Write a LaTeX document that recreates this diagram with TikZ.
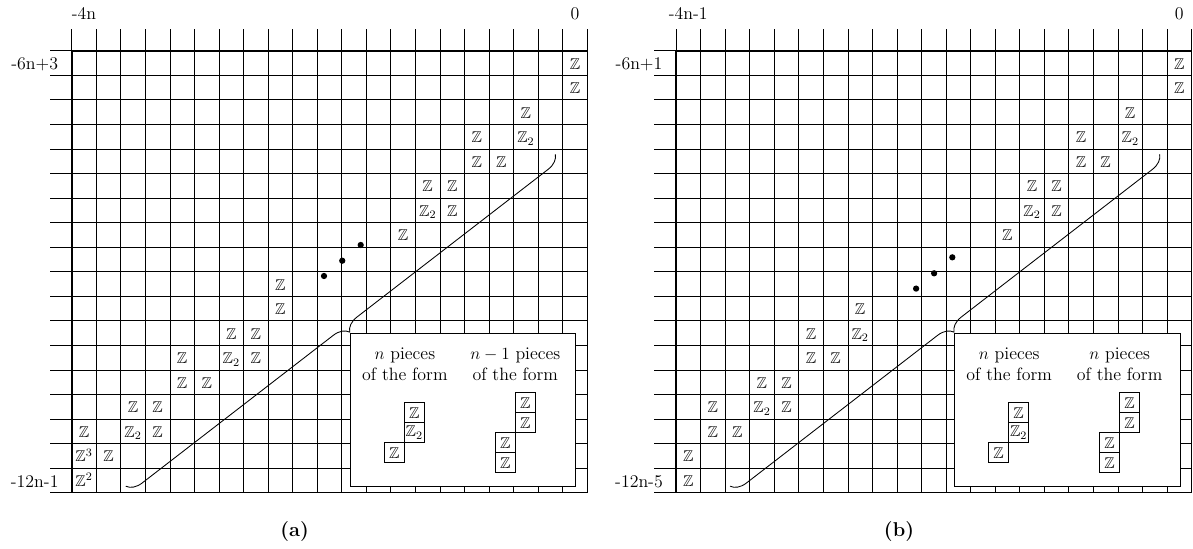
\documentclass[tikz,border=0pt]{standalone}
\usepackage{amssymb}
\usetikzlibrary{decorations.pathreplacing}
\newcommand\bbZ{\mathbb{Z}}
\tikzset{
  gridline/.style={line width=0.5pt},
  axisline/.style={line width=1.4pt},
  zent/.style={anchor=base, inner sep=0pt, font=\fontsize{10.95}{13}\selectfont},
  lab/.style={anchor=base, inner sep=0pt, font=\fontsize{12.5}{15}\selectfont},
  boxtext/.style={anchor=base, inner sep=0pt, font=\fontsize{12.5}{15}\selectfont},
  piece/.style={draw, line width=0.6pt, minimum size=14pt, inner sep=0pt, font=\fontsize{10.95}{13}\selectfont},
  legend/.style={draw, fill=white, line width=0.6pt, inner sep=0pt, anchor=north west, minimum width=157.8pt, minimum height=106.7pt},
  dotmark/.style={circle, fill, inner sep=0pt, minimum size=4.4pt},
  bracepath/.style={decorate, decoration={brace, amplitude=10.5pt}, line width=0.6pt},
  caption/.style={anchor=base, inner sep=0pt, font=\fontsize{14}{17}\selectfont\bfseries}
}
\begin{document}
\begin{tikzpicture}[x=0.7pt,y=-0.7pt]
\useasboundingbox (0,0) rectangle (1193,548);

% ---------------- panel (a) ----------------
\begin{scope}[shift={(50.19pt,-35.49pt)}, x=17.185pt, y=-17.185pt]
  \foreach \i in {0,...,21} \draw[gridline] (\i,-0.88) -- (\i,18);
  \foreach \j in {0,...,18} \draw[gridline] (-0.88,\j) -- (21,\j);
  \draw[axisline] (0,18) -- (0,0) -- (21,0);
  \node[lab] (a-top1) at (0.5,-1.27) {-4n};
  \node[lab] (a-top2) at (20.5,-1.27) {0};
  \node[lab] (a-row1) at (-1.507,0.78) {-6n+3};
  \node[lab] (a-row2) at (-1.507,17.78) {-12n-1};
  \foreach \c/\r/\t [count=\k] in {20/0/\bbZ, 20/1/\bbZ, 18/2/\bbZ, 18/3/\bbZ_2,
     16/3/\bbZ, 16/4/\bbZ, 17/4/\bbZ, 14/5/\bbZ, 15/5/\bbZ, 14/6/\bbZ_2, 15/6/\bbZ,
     13/7/\bbZ, 8/9/\bbZ, 8/10/\bbZ, 6/11/\bbZ, 7/11/\bbZ, 4/12/\bbZ, 6/12/\bbZ_2,
     7/12/\bbZ, 4/13/\bbZ, 5/13/\bbZ, 2/14/\bbZ, 3/14/\bbZ, 0/15/\bbZ, 2/15/\bbZ_2,
     3/15/\bbZ, 0/16/\bbZ^3, 1/16/\bbZ, 0/17/\bbZ^2}
     \node[zent] (a-z\k) at (\c+0.5,\r+0.75) {$\t$};
  \node[dotmark] (a-d1) at (10.277,9.177) {};
  \node[dotmark] (a-d2) at (11.02,8.554) {};
  \node[dotmark] (a-d3) at (11.772,7.914) {};
  \coordinate (a-p1) at (2.2,17.74);
  \coordinate (a-p2) at (19.7,4.22);
  \draw[bracepath] (a-p2) -- (a-p1);
  \node[legend] (a-box) at (11.33,11.51) {};
  \node[boxtext] (a-t1) at (13.57,12.558) {$n$ pieces};
  \node[boxtext] (a-t2) at (13.57,13.414) {of the form};
  \node[boxtext] (a-t3) at (18.07,12.558) {$n-1$ pieces};
  \node[boxtext] (a-t4) at (18.07,13.414) {of the form};
  \node[piece] (a-l1) at (13.955,14.745) {$\bbZ$};
  \node[piece] (a-l2) at (13.955,15.56) {$\bbZ_2$};
  \node[piece] (a-l3) at (13.14,16.375) {$\bbZ$};
  \node[piece] (a-r1) at (18.477,14.338) {$\bbZ$};
  \node[piece] (a-r2) at (18.477,15.153) {$\bbZ$};
  \node[piece] (a-r3) at (17.662,15.968) {$\bbZ$};
  \node[piece] (a-r4) at (17.662,16.782) {$\bbZ$};
\end{scope}

% ---------------- panel (b) ----------------
\begin{scope}[shift={(473.2pt,-35.49pt)}, x=17.185pt, y=-17.185pt]
  \foreach \i in {0,...,21} \draw[gridline] (\i,-0.88) -- (\i,18);
  \foreach \j in {0,...,18} \draw[gridline] (-0.88,\j) -- (21,\j);
  \draw[axisline] (0,18) -- (0,0) -- (21,0);
  \node[lab] (b-top1) at (0.5,-1.27) {-4n-1};
  \node[lab] (b-top2) at (20.5,-1.27) {0};
  \node[lab] (b-row1) at (-1.507,0.78) {-6n+1};
  \node[lab] (b-row2) at (-1.507,17.78) {-12n-5};
  \foreach \c/\r/\t [count=\k] in {20/0/\bbZ, 20/1/\bbZ, 18/2/\bbZ, 18/3/\bbZ_2,
     16/3/\bbZ, 16/4/\bbZ, 17/4/\bbZ, 14/5/\bbZ, 15/5/\bbZ, 14/6/\bbZ_2, 15/6/\bbZ,
     13/7/\bbZ, 7/10/\bbZ, 7/11/\bbZ_2, 5/11/\bbZ, 5/12/\bbZ, 6/12/\bbZ,
     3/13/\bbZ, 4/13/\bbZ, 3/14/\bbZ_2, 4/14/\bbZ, 1/14/\bbZ, 1/15/\bbZ, 2/15/\bbZ,
     0/16/\bbZ, 0/17/\bbZ}
     \node[zent] (b-z\k) at (\c+0.5,\r+0.75) {$\t$};
  \node[dotmark] (b-d1) at (9.78,9.69) {};
  \node[dotmark] (b-d2) at (10.513,9.067) {};
  \node[dotmark] (b-d3) at (11.255,8.416) {};
  \coordinate (b-p1) at (2.2,17.74);
  \coordinate (b-p2) at (19.7,4.22);
  \draw[bracepath] (b-p2) -- (b-p1);
  \node[legend] (b-box) at (11.33,11.51) {};
  \node[boxtext] (b-t1) at (13.57,12.558) {$n$ pieces};
  \node[boxtext] (b-t2) at (13.57,13.414) {of the form};
  \node[boxtext] (b-t3) at (18.07,12.558) {$n$ pieces};
  \node[boxtext] (b-t4) at (18.07,13.414) {of the form};
  \node[piece] (b-l1) at (13.955,14.745) {$\bbZ$};
  \node[piece] (b-l2) at (13.955,15.56) {$\bbZ_2$};
  \node[piece] (b-l3) at (13.14,16.375) {$\bbZ$};
  \node[piece] (b-r1) at (18.477,14.338) {$\bbZ$};
  \node[piece] (b-r2) at (18.477,15.153) {$\bbZ$};
  \node[piece] (b-r3) at (17.662,15.968) {$\bbZ$};
  \node[piece] (b-r4) at (17.662,16.782) {$\bbZ$};
\end{scope}

\node[caption] (capa) at (294.7,536) {(a)};
\node[caption] (capb) at (899,536) {(b)};
\end{tikzpicture}
\end{document}
